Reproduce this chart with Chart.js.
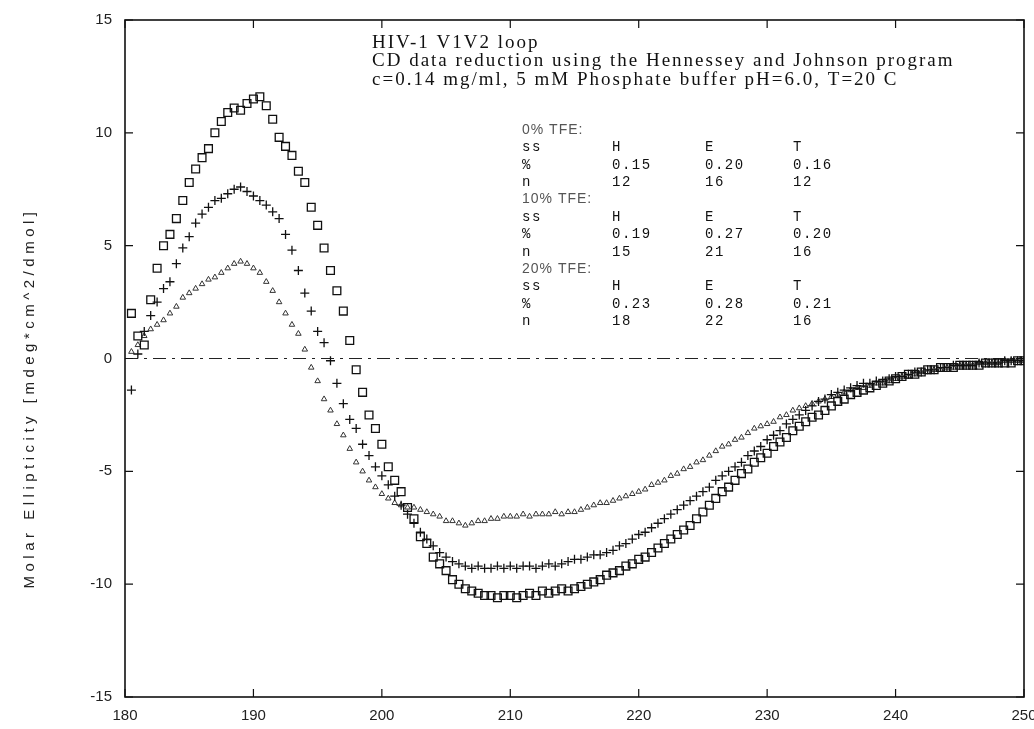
<!DOCTYPE html>
<html>
<head>
<meta charset="utf-8">
<title>HIV-1 V1V2 loop CD spectra</title>
<script src="https://cdn.jsdelivr.net/npm/chart.js@4.4.1/dist/chart.umd.min.js"></script>
<style>
  body { margin: 0; background: #fff; }
  #wrap { width: 1034px; height: 729px; }
</style>
</head>
<body>
<div id="wrap"><canvas id="chart" width="1034" height="729"></canvas></div>
<script>
// wavelength (nm)
const wavelength = [
  180.5, 181, 181.5, 182, 182.5, 183, 183.5, 184, 184.5, 185,
  185.5, 186, 186.5, 187, 187.5, 188, 188.5, 189, 189.5, 190,
  190.5, 191, 191.5, 192, 192.5, 193, 193.5, 194, 194.5, 195,
  195.5, 196, 196.5, 197, 197.5, 198, 198.5, 199, 199.5, 200,
  200.5, 201, 201.5, 202, 202.5, 203, 203.5, 204, 204.5, 205,
  205.5, 206, 206.5, 207, 207.5, 208, 208.5, 209, 209.5, 210,
  210.5, 211, 211.5, 212, 212.5, 213, 213.5, 214, 214.5, 215,
  215.5, 216, 216.5, 217, 217.5, 218, 218.5, 219, 219.5, 220,
  220.5, 221, 221.5, 222, 222.5, 223, 223.5, 224, 224.5, 225,
  225.5, 226, 226.5, 227, 227.5, 228, 228.5, 229, 229.5, 230,
  230.5, 231, 231.5, 232, 232.5, 233, 233.5, 234, 234.5, 235,
  235.5, 236, 236.5, 237, 237.5, 238, 238.5, 239, 239.5, 240,
  240.5, 241, 241.5, 242, 242.5, 243, 243.5, 244, 244.5, 245,
  245.5, 246, 246.5, 247, 247.5, 248, 248.5, 249, 249.5, 250
];

// 0% TFE (squares)
const tfe0 = [
  2.0, 1.0, 0.6, 2.6, 4.0, 5.0, 5.5, 6.2, 7.0, 7.8,
  8.4, 8.9, 9.3, 10.0, 10.5, 10.9, 11.1, 11.0, 11.3, 11.5,
  11.6, 11.2, 10.6, 9.8, 9.4, 9.0, 8.3, 7.8, 6.7, 5.9,
  4.9, 3.9, 3.0, 2.1, 0.8, -0.5, -1.5, -2.5, -3.1, -3.8,
  -4.8, -5.4, -5.9, -6.6, -7.1, -7.9, -8.2, -8.8, -9.1, -9.4,
  -9.8, -10.0, -10.2, -10.3, -10.4, -10.5, -10.5, -10.6, -10.5, -10.5,
  -10.6, -10.5, -10.4, -10.5, -10.3, -10.4, -10.3, -10.2, -10.3, -10.2,
  -10.1, -10.0, -9.9, -9.8, -9.6, -9.5, -9.4, -9.2, -9.1, -8.9,
  -8.8, -8.6, -8.4, -8.2, -8.0, -7.8, -7.6, -7.4, -7.1, -6.8,
  -6.5, -6.2, -5.9, -5.7, -5.4, -5.1, -4.9, -4.6, -4.4, -4.2,
  -3.9, -3.7, -3.5, -3.2, -3.0, -2.8, -2.6, -2.5, -2.3, -2.1,
  -1.9, -1.8, -1.6, -1.5, -1.4, -1.3, -1.2, -1.1, -1.0, -0.9,
  -0.8, -0.7, -0.7, -0.6, -0.5, -0.5, -0.4, -0.4, -0.4, -0.3,
  -0.3, -0.3, -0.3, -0.2, -0.2, -0.2, -0.2, -0.2, -0.1, -0.1
];

// 10% TFE (crosses)
const tfe10 = [
  -1.4, 0.2, 1.2, 1.9, 2.5, 3.1, 3.4, 4.2, 4.9, 5.4,
  6.0, 6.4, 6.7, 7.0, 7.1, 7.3, 7.5, 7.6, 7.4, 7.2,
  7.0, 6.8, 6.5, 6.2, 5.5, 4.8, 3.9, 2.9, 2.1, 1.2,
  0.7, -0.1, -1.1, -2.0, -2.7, -3.1, -3.8, -4.3, -4.8, -5.2,
  -5.6, -6.1, -6.5, -6.9, -7.3, -7.7, -8.0, -8.3, -8.6, -8.8,
  -9.0, -9.1, -9.2, -9.3, -9.2, -9.3, -9.3, -9.2, -9.3, -9.2,
  -9.3, -9.2, -9.2, -9.3, -9.2, -9.1, -9.2, -9.1, -9.0, -8.9,
  -8.9, -8.8, -8.7, -8.7, -8.6, -8.5, -8.3, -8.2, -8.0, -7.8,
  -7.7, -7.5, -7.3, -7.1, -6.9, -6.7, -6.5, -6.3, -6.1, -5.9,
  -5.7, -5.4, -5.2, -5.0, -4.8, -4.6, -4.3, -4.1, -3.9, -3.6,
  -3.4, -3.2, -2.9, -2.7, -2.5, -2.3, -2.1, -1.9, -1.8, -1.6,
  -1.5, -1.4, -1.3, -1.2, -1.1, -1.1, -1.0, -1.0, -0.9, -0.8,
  -0.8, -0.7, -0.6, -0.6, -0.5, -0.5, -0.4, -0.4, -0.3, -0.3,
  -0.3, -0.3, -0.2, -0.2, -0.2, -0.2, -0.1, -0.1, -0.1, -0.1
];

// 20% TFE (triangles)
const tfe20 = [
  0.3, 0.6, 1.0, 1.3, 1.5, 1.7, 2.0, 2.3, 2.7, 2.9,
  3.1, 3.3, 3.5, 3.6, 3.8, 4.0, 4.2, 4.3, 4.2, 4.0,
  3.8, 3.4, 3.0, 2.5, 2.0, 1.5, 1.1, 0.4, -0.4, -1.0,
  -1.8, -2.3, -2.9, -3.4, -4.0, -4.6, -5.0, -5.4, -5.7, -6.0,
  -6.2, -6.4, -6.5, -6.6, -6.6, -6.7, -6.8, -6.9, -7.0, -7.2,
  -7.2, -7.3, -7.4, -7.3, -7.2, -7.2, -7.1, -7.1, -7.0, -7.0,
  -7.0, -6.9, -7.0, -6.9, -6.9, -6.9, -6.8, -6.9, -6.8, -6.8,
  -6.7, -6.6, -6.5, -6.4, -6.4, -6.3, -6.2, -6.1, -6.0, -5.9,
  -5.8, -5.6, -5.5, -5.4, -5.2, -5.1, -4.9, -4.8, -4.6, -4.5,
  -4.3, -4.1, -3.9, -3.8, -3.6, -3.5, -3.3, -3.1, -3.0, -2.9,
  -2.8, -2.6, -2.5, -2.3, -2.2, -2.1, -2.0, -1.9, -1.8, -1.7,
  -1.6, -1.5, -1.4, -1.3, -1.3, -1.2, -1.1, -1.1, -1.0, -0.9,
  -0.8, -0.8, -0.7, -0.6, -0.6, -0.5, -0.5, -0.4, -0.4, -0.3,
  -0.3, -0.3, -0.2, -0.2, -0.2, -0.2, -0.1, -0.1, -0.1, -0.1
];

const xTicks = [180, 190, 200, 210, 220, 230, 240, 250];
const yTicks = [-15, -10, -5, 0, 5, 10, 15];
const yTitle = "Molar Ellipticity [mdeg*cm^2/dmol]";

// annotation text
const noteLines = [
  "HIV-1 V1V2 loop",
  "CD data reduction using the Hennessey and Johnson program",
  "c=0.14 mg/ml, 5 mM Phosphate buffer pH=6.0, T=20 C"
];
const tfeLevels = ["0% TFE:", "10% TFE:", "20% TFE:"];
const ssHeader = ["ss", "H", "E", "T"];
const fractions = [[0.15, 0.20, 0.16], [0.19, 0.27, 0.20], [0.23, 0.28, 0.21]];
const counts = [[12, 16, 12], [15, 21, 16], [18, 22, 16]];

function toPoints(values) {
  return wavelength.map((w, i) => ({ x: w, y: values[i] }));
}

// frame box with ticks pointing inward on all four sides
const frameTicks = {
  id: "frameTicks",
  afterDatasetsDraw(chart) {
    const { ctx, chartArea: a, scales } = chart;
    ctx.save();
    ctx.strokeStyle = "#111";
    ctx.lineWidth = 1.6;
    ctx.strokeRect(a.left, a.top, a.right - a.left, a.bottom - a.top);
    ctx.lineWidth = 1.2;
    ctx.beginPath();
    xTicks.forEach(v => {
      const px = scales.x.getPixelForValue(v);
      ctx.moveTo(px, a.bottom); ctx.lineTo(px, a.bottom - 8);
      ctx.moveTo(px, a.top); ctx.lineTo(px, a.top + 8);
    });
    yTicks.forEach(v => {
      const py = scales.y.getPixelForValue(v);
      ctx.moveTo(a.left, py); ctx.lineTo(a.left + 8, py);
      ctx.moveTo(a.right, py); ctx.lineTo(a.right - 8, py);
    });
    ctx.stroke();
    ctx.restore();
  }
};

// y title (spaced out) and text block in the upper right of the plot
const notes = {
  id: "notes",
  afterDraw(chart) {
    const ctx = chart.ctx;
    ctx.save();
    ctx.fillStyle = "#222";
    ctx.textBaseline = "middle";

    ctx.save();
    ctx.translate(30, 398);
    ctx.rotate(-Math.PI / 2);
    ctx.textAlign = "center";
    ctx.font = "15px 'Liberation Sans', sans-serif";
    ctx.letterSpacing = "4.5px";
    ctx.fillText(yTitle, 0, 0);
    ctx.restore();

    ctx.fillStyle = "#111";
    ctx.font = "19px 'Liberation Serif', serif";
    ctx.letterSpacing = "2px";
    noteLines.forEach((t, i) => ctx.fillText(t, 372, 43 + i * 18.5));

    const cols = [522, 612, 705, 793];
    let y = 130;
    const step = 17.4;
    tfeLevels.forEach((lvl, k) => {
      ctx.font = "14px 'Liberation Sans', sans-serif";
      ctx.letterSpacing = "1px";
      ctx.fillStyle = "#555";
      ctx.fillText(lvl, cols[0], y);
      y += step;
      ctx.font = "14px 'Liberation Mono', monospace";
      ctx.letterSpacing = "1.5px";
      ctx.fillStyle = "#111";
      ssHeader.forEach((h, c) => ctx.fillText(h, cols[c], y));
      y += step;
      ctx.fillText("%", cols[0], y);
      fractions[k].forEach((f, c) => ctx.fillText(f.toFixed(2), cols[c + 1], y));
      y += step;
      ctx.fillText("n", cols[0], y);
      counts[k].forEach((n, c) => ctx.fillText(String(n), cols[c + 1], y));
      y += step;
    });
    ctx.restore();
  }
};

const tickFont = { family: "'Liberation Sans Narrow', 'Liberation Sans', sans-serif", size: 15 };

new Chart(document.getElementById("chart"), {
  type: "scatter",
  data: {
    datasets: [
      {
        label: "0% TFE",
        data: toPoints(tfe0),
        pointStyle: "rect",
        pointRadius: 5.5,
        borderColor: "#111",
        borderWidth: 1.3,
        backgroundColor: "rgba(255,255,255,0)"
      },
      {
        label: "10% TFE",
        data: toPoints(tfe10),
        pointStyle: "cross",
        pointRadius: 4.5,
        borderColor: "#111",
        borderWidth: 1.3
      },
      {
        label: "20% TFE",
        data: toPoints(tfe20),
        pointStyle: "triangle",
        pointRadius: 3.2,
        borderColor: "#333",
        borderWidth: 1,
        backgroundColor: "rgba(255,255,255,0)"
      },
      {
        label: "zero",
        type: "line",
        data: [{ x: xTicks[0], y: 0 }, { x: xTicks[xTicks.length - 1], y: 0 }],
        borderColor: "#222",
        borderWidth: 1.2,
        borderDash: [13, 6, 3, 6],
        pointRadius: 0
      }
    ]
  },
  options: {
    responsive: false,
    animation: false,
    layout: { padding: { top: 20, right: 10, left: 0, bottom: 0 } },
    plugins: {
      legend: { display: false },
      tooltip: { enabled: false }
    },
    scales: {
      x: {
        type: "linear",
        min: 180,
        max: 250,
        afterBuildTicks: s => { s.ticks = xTicks.map(v => ({ value: v })); },
        afterFit: s => { s.height = 32; s.paddingRight = 0; s.paddingLeft = 0; },
        grid: { display: false },
        border: { display: false },
        ticks: { color: "#222", font: tickFont, padding: 2 }
      },
      y: {
        min: -15,
        max: 15,
        afterBuildTicks: s => { s.ticks = yTicks.map(v => ({ value: v })); },
        afterFit: s => { s.width = 125; },
        grid: { display: false },
        border: { display: false },
        ticks: { color: "#222", font: tickFont, padding: 5 }
      }
    }
  },
  plugins: [frameTicks, notes]
});
</script>
</body>
</html>
